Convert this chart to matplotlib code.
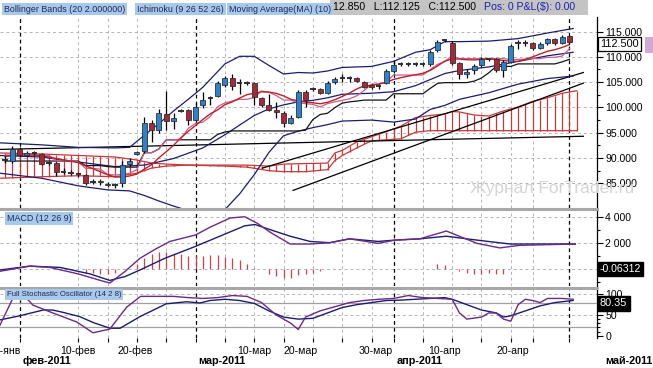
import matplotlib
matplotlib.use('Agg')
import matplotlib.pyplot as plt
from matplotlib.patches import Rectangle
import matplotlib.transforms as mtransforms
import numpy as np

plt.rcParams['font.family'] = ['Liberation Sans', 'DejaVu Sans']

# ---------------- data (bar index = trading bar incl. Sunday bars) ----------------
opens  = [89.7,89.4,91.8,90.5,90.9,90.8,88.9,89.1,87.3,87.1,86.8,86.6,85.3,85.5,84.9,84.6,85.0,88.8,90.7,91.4,
          97.0,95.5,98.7,97.3,99.2,99.4,97.5,100.5,101.8,102.3,104.4,105.9,104.7,104.9,104.8,101.8,100.5,99.5,98.8,97.0,
          98.2,103.1,103.5,103.6,102.9,105.0,105.75,105.7,105.8,105.0,104.4,104.1,104.9,107.1,108.45,108.45,108.45,108.55,108.5,111.3,
          113.3,112.8,108.7,106.7,107.3,108.4,109.45,109.5,107.4,109.0,112.6,112.7,112.7,111.7,112.7,113.5,112.8,114.1]
closes = [89.5,91.8,90.6,91.0,90.95,88.9,89.0,87.3,87.35,87.15,86.85,85.1,85.35,85.2,84.6,84.8,88.6,89.5,91.1,97.0,
          95.5,98.8,97.4,98.0,99.4,97.5,100.1,101.5,102.0,104.9,105.9,104.2,104.9,104.8,102.1,100.5,99.5,99.0,97.0,98.0,
          103.1,101.5,103.7,102.9,104.9,105.6,105.85,105.8,105.2,104.1,104.0,104.2,107.1,108.4,108.55,108.55,108.55,108.65,111.0,113.0,
          113.4,108.8,106.7,107.0,108.2,109.5,109.55,107.4,109.0,112.1,112.7,112.8,111.7,112.6,113.5,112.7,114.0,113.0]
highs  = [90.3,92.4,92.2,91.3,91.3,91.0,89.3,89.3,88.0,87.6,87.3,86.9,85.8,85.8,85.2,85.0,89.5,90.0,91.4,98.1,
          97.6,99.6,103.2,98.8,99.6,99.6,100.8,103.0,102.3,105.3,106.3,106.7,105.6,105.3,105.0,102.1,102.7,101.0,99.2,98.5,
          103.5,103.4,104.0,103.9,105.3,106.0,106.6,106.2,106.0,105.3,104.7,104.7,107.5,109.2,109.0,108.9,108.9,109.0,111.3,113.3,
          113.6,113.2,109.0,107.6,108.6,110.0,109.8,109.8,109.3,112.5,113.3,113.3,113.0,113.0,113.8,113.8,114.3,114.4]
lows   = [89.0,89.0,90.3,90.3,90.5,88.7,88.6,86.5,86.8,86.7,86.3,84.6,84.9,84.6,84.2,84.0,84.3,88.5,90.5,91.0,
          93.2,95.0,95.5,95.8,99.0,96.5,97.2,99.8,100.5,102.0,104.0,103.5,102.7,104.4,100.5,100.0,99.3,98.0,96.2,96.8,
          98.0,100.1,103.2,102.6,102.6,104.6,105.0,105.1,105.0,103.9,103.6,103.7,104.6,106.8,108.1,108.1,108.1,108.2,108.2,111.0,
          113.0,108.3,105.7,105.8,106.6,108.0,109.2,107.0,106.0,108.8,111.6,112.2,111.3,111.5,112.4,112.3,112.5,112.5]

# Bollinger bands (bar, value)
bb_up_x  = [-0.7,5,10,15,17,19,21,23,25,27,30,32,34,36,38,40,42,44,46,50,53,56,58,60,62,66,70,74,77.5]
bb_up_y  = [93.0,92.6,92.1,92.0,92.1,94.5,96.8,99.3,101.6,104.0,108.6,110.1,110.1,108.3,106.6,106.9,106.8,107.2,107.9,108.1,109.1,110.9,111.4,113.0,113.0,113.1,113.6,114.7,115.6]
bb_mid_x = [-0.7,5,10,15,19,23,27,30,32,34,36,38,40,42,44,46,50,53,56,58,60,62,66,70,74,77.5]
bb_mid_y = [90.5,90.2,89.2,88.3,88.6,89.9,92.0,94.6,96.5,98.4,99.7,100.5,101.1,101.4,101.9,102.6,102.8,103.1,104.3,105.5,106.7,107.3,108.0,109.1,110.2,110.9]
bb_lo_x  = [-0.7,5,10,14,17,19,21,23,25,27,30,32,34,36,38,40,42,44,46,50,53,56,58,60,62,66,70,74,77.5]
bb_lo_y  = [87.0,86.0,84.5,83.7,83.5,82.6,81.5,80.5,79.6,79.3,79.8,82.9,86.7,91.1,94.4,95.3,96.0,96.6,97.3,97.5,97.1,97.7,99.6,100.4,101.6,102.9,104.6,105.7,106.2]

# MA(10) (red), Tenkan-sen (pink), Kijun-sen (black) - one value per bar 0..77
ma10 = [90.3,90.5,90.6,90.6,90.6,90.4,90.2,89.9,89.6,89.36,89.09,88.42,87.9,87.3,86.68,86.27,86.23,86.45,86.83,87.81,
        88.68,90.05,91.25,92.53,94.01,95.28,96.43,97.63,98.72,99.51,100.55,101.09,101.84,102.52,102.79,103.09,103.03,102.78,102.28,101.59,
        101.31,101.04,100.92,100.73,101.01,101.52,102.16,102.84,103.66,104.27,104.36,104.63,104.97,105.52,105.88,106.18,106.45,106.73,107.31,108.2,
        109.14,109.6,109.56,109.42,109.39,109.48,109.58,109.46,109.26,109.17,109.1,109.5,110.0,110.56,111.09,111.41,111.85,112.41]
tenkan = [90.6,90.6,90.6,90.6,90.6,90.55,90.5,89.45,89.45,89.45,89.25,87.95,87.95,87.8,86.75,86.65,86.75,87.0,87.7,91.05,
          91.05,91.8,93.6,93.6,93.75,95.85,96.85,97.1,98.2,100.15,100.9,101.25,101.6,101.6,101.95,103.25,103.0,102.35,101.45,101.45,
          100.9,100.75,100.6,100.1,100.75,101.1,101.4,101.7,102.3,103.35,104.6,104.6,105.05,106.4,106.4,106.4,106.4,106.4,107.45,108.5,
          109.1,110.2,109.65,109.65,109.65,109.65,109.65,109.65,109.65,109.45,109.5,109.55,109.65,109.65,109.9,109.9,110.15,111.6]
kijun = [89.4,89.4,89.4,89.4,89.4,89.4,89.4,89.4,89.4,89.4,89.4,88.5,88.5,88.5,88.3,88.2,88.2,88.2,88.2,91.05,
         91.05,91.8,93.6,93.6,93.6,93.6,93.6,93.6,93.6,94.65,95.15,95.35,95.35,95.35,95.35,95.35,95.35,95.35,95.35,95.35,
         95.35,95.5,97.6,98.6,98.85,99.95,100.85,101.1,101.25,101.45,101.45,101.45,101.45,102.7,102.7,102.7,102.7,102.7,103.75,104.75,
         104.9,104.9,104.9,104.9,105.2,105.8,106.85,108.1,108.1,108.1,108.6,108.6,108.6,108.6,108.6,108.6,109.0,109.5]

cloud_x = [-0.7,5,10,15,18,20,22,25,30,33,36,38,41,44,45,46,48,50,52,54,56,58,60,61,62,64,66,68,70,72,74,76,78]
cloud_a = [91.0,90.8,90.5,90.2,89.6,89.0,88.8,88.6,88.6,88.6,88.4,88.8,88.9,89.0,91.0,91.5,93.2,94.2,95.2,96.3,98.0,98.4,98.7,99.2,99.1,98.5,98.3,99.3,100.1,101.2,101.9,102.8,103.3]
cloud_b = [86.0,86.3,86.5,86.3,87.0,88.0,88.4,88.6,88.4,88.2,87.5,87.3,87.3,87.7,89.5,90.5,92.0,93.4,93.6,93.8,95.1,95.4,95.4,95.4,95.4,95.4,95.4,95.4,95.4,95.4,95.4,95.4,95.4]

# drawn lines (two ends each)
line_x = [[-0.7, 78.9], [35.1, 78.9], [39.3, 78.9]]
line_y = [[91.7, 94.3], [88.0, 106.9], [83.6, 104.8]]

# MACD (bar, value)
macd_x = [-0.7,3.4,6.1,10,13,14.3,16.4,18.4,20.5,22.5,24.6,26,28,30.7,32.7,34.4,36.2,38.9,41.6,44.3,47,50.9,53.2,56.6,60.2,64.4,67.5,70.2,77.8]
macd_v = [-0.2,0.2,0.1,-0.4,-0.9,-1.1,-0.2,0.8,1.5,2.1,2.4,2.6,3.2,3.9,4.0,3.5,2.8,1.9,1.9,2.0,2.3,1.95,2.2,2.3,2.9,1.95,1.6,1.8,1.9]
sig_x  = [-0.7,3.4,7.5,11.6,14.3,16.4,18.4,21.8,25.9,29.3,32.7,34.1,36.2,38.9,41.6,44.3,47,50.9,53.2,56.6,60.2,64.4,68.9,77.8]
sig_v  = [-0.1,0.2,0.1,-0.4,-0.9,-0.6,-0.1,0.8,1.7,2.5,3.3,3.4,3.0,2.5,2.1,2.0,2.3,2.1,2.2,2.3,2.5,2.2,1.9,1.9]
hist_x = [11,12,13,14,15,18,19,20,21,22,23,24,25,26,27,28,29,30,31,32,33,34,36,37,38,39,40,41,42,43,59,60,62,63,64,65,66,67,68]
hist_v = [-0.3,-0.35,-0.4,-0.4,-0.3,0.4,0.8,1.1,1.3,1.25,1.1,1.1,1.0,1.0,1.0,1.05,1.05,0.9,0.8,0.65,0.4,0.05,-0.4,-0.55,-0.75,-0.7,-0.5,-0.4,-0.3,-0.15,0.35,0.3,-0.2,-0.3,-0.4,-0.4,-0.35,-0.4,-0.4]

# Full stochastic
stk_x = [-0.7,1.2,2.5,3.8,6.5,9.8,12,14.3,16.6,18.5,21,23,25,27,29,31,33,35,37,39,40,41,43,45,47,49,51,53,55,57,59,61,62,63,65,66,67,68,69,70,71,72,73,74,76,77.5]
stk_v = [25,95,99,74,55,33,7,16,69,95,95,95,92,90,92,97,95,80,50,30,15,45,60,70,80,85,88,90,97,92,90,88,55,40,45,55,55,40,35,75,88,85,80,90,90,88]
std_x = [-0.7,2,5.2,6.5,8,10.2,12,14.3,15.7,18.4,22,24.8,26.6,28,30,32,34,36,38,40,42,44,46,48,50,52,54,56,58,60,61,63,65,67,68,69,71,73,75,77.5]
std_v = [38,48,62,62,56,46,32,18,18,46,77,82,79,85,88,85,78,60,45,40,42,55,68,75,80,85,86,88,90,92,88,75,62,55,45,48,60,72,80,85]

# axis labels
day_pos    = [0, 10, 17.8, 34, 40.3, 50.6, 60, 69.3]
day_labels = ['30-янв', '10-фев', '20-фев', '10-мар', '20-мар', '30-мар', '10-апр', '20-апр']
month_pos  = [2, 26, 53, 77]
month_lbls = ['фев-2011', 'мар-2011', 'апр-2011', 'май-2011']
grid_pos   = [10, 14, 18, 22, 30, 34, 38, 42, 46, 50, 57, 61, 65, 69, 72]

# ---------------- figure ----------------
W, H = 653, 368
fig = plt.figure(figsize=(W / 100, H / 100), dpi=100)
fig.patch.set_facecolor('white')

def panel(top, bottom, right=597):
    return fig.add_axes([0, 1 - bottom / H, right / W, (bottom - top) / H])

ax = panel(17, 208)
axm = panel(211, 286)
axs = panel(289, 338)

XL = (-0.682, 80.76)
NAVY = '#1c1c6e'
GRID = '#b4b4b4'
bars = np.arange(len(closes))

for a in (ax, axm, axs):
    a.set_xlim(*XL)
    for s in ('left', 'top', 'bottom'):
        a.spines[s].set_visible(False)
    a.spines['right'].set_color('black')
    a.spines['right'].set_linewidth(0.9)
    a.yaxis.tick_right()
    a.tick_params(axis='y', which='major', length=4, width=0.8, pad=2, labelsize=7.6, colors='black')
    a.tick_params(axis='y', which='minor', length=2, width=0.8)
    a.set_xticks([])
    for g in grid_pos:
        a.axvline(g, color=GRID, lw=0.7, ls=(0, (3, 3)), zorder=0)
    for m in month_pos:
        a.axvline(m, color='black', lw=0.9, ls=(0, (3, 2.5)), zorder=1)

# ---- main panel
ax.set_ylim(80.12, 117.87)
ax.set_yticks([85, 90, 95, 100, 105, 110, 115])
ax.set_yticklabels(['85.000', '90.000', '95.000', '100.000', '105.000', '110.000', '115.000'])
ax.set_yticks([87.5, 92.5, 97.5, 102.5, 107.5, 112.5], minor=True)
for v in [85, 90, 95, 100, 105, 110, 115]:
    ax.axhline(v, color=GRID, lw=0.7, ls=(0, (3, 3)), zorder=0)

# cloud
CL = '#c83838'
ax.plot(cloud_x, cloud_a, color=CL, lw=0.9, zorder=2)
ax.plot(cloud_x, cloud_b, color=CL, lw=0.9, zorder=2)
hx = np.arange(0, 79)
ca = np.interp(hx, cloud_x, cloud_a)
cb = np.interp(hx, cloud_x, cloud_b)
ax.vlines(hx, np.minimum(ca, cb), np.maximum(ca, cb), color=CL, lw=0.9, zorder=2)

for xs, ys in zip(line_x, line_y):
    ax.plot(xs, ys, color='black', lw=0.9, zorder=3)

ax.plot(bb_up_x, bb_up_y, color=NAVY, lw=0.9, zorder=3)
ax.plot(bb_mid_x, bb_mid_y, color=NAVY, lw=0.9, zorder=3)
ax.plot(bb_lo_x, bb_lo_y, color=NAVY, lw=0.9, zorder=3)
ax.plot(bars, kijun, color='#141414', lw=0.9, zorder=3)
ax.plot(bars, tenkan, color='#c8608c', lw=0.9, zorder=3)
ax.plot(bars, ma10, color='#c0202a', lw=1.0, zorder=3)

for i, (o, h, l, c) in enumerate(zip(opens, highs, lows, closes)):
    ax.vlines(i, l, h, color='black', lw=0.9, zorder=4)
    col = '#2b83d0' if c >= o else '#a8283a'
    bot, ht = min(o, c), abs(c - o)
    if ht < 0.25:
        ax.hlines((o + c) / 2, i - 0.36, i + 0.36, color='#303030', lw=1.4, zorder=5)
    else:
        ax.add_patch(Rectangle((i - 0.34, bot), 0.68, ht, facecolor=col, edgecolor='#303030', lw=0.6, zorder=5))

# last price box
ax.text(1.005, 112.5, '112.500', transform=mtransforms.blended_transform_factory(ax.transAxes, ax.transData),
        fontsize=7.8, va='center', ha='left', zorder=10,
        bbox=dict(boxstyle='square,pad=0.18', fc='white', ec='black', lw=0.9))
fig.patches.append(Rectangle((645 / W, 1 - 53 / H), 8 / W, 16 / H, transform=fig.transFigure,
                             facecolor='#d4a8d6', edgecolor='none'))

# watermark
fig.text(470 / W, 1 - 189 / H, 'Журнал ForTrader.ru', fontsize=12.5, color='#d4d4d4', va='center', ha='left', zorder=0.5)

# ---- MACD panel
axm.set_ylim(-1.33, 4.44)
axm.set_yticks([2, 4])
axm.set_yticklabels(['2 000', '4 000'])
axm.set_yticks([-1, 0, 1, 3], minor=True)
for v in [0, 2, 4]:
    axm.axhline(v, color=GRID, lw=0.7, ls=(0, (3, 3)), zorder=0)
axm.vlines(hist_x, 0, hist_v, color='#d0404e', lw=0.9, zorder=2)
axm.plot(sig_x, sig_v, color=NAVY, lw=1.0, zorder=3)
axm.plot(macd_x, macd_v, color='#6a2a86', lw=1.0, zorder=3)
axm.text(1.005, 0.0, '-0.06312', transform=mtransforms.blended_transform_factory(axm.transAxes, axm.transData),
         fontsize=7.6, va='center', ha='left', color='white', zorder=10,
         bbox=dict(boxstyle='square,pad=0.2', fc='black', ec='black'))

# ---- Stochastic panel
axs.set_ylim(-5.6, 112.8)
axs.set_yticks([0, 50, 100])
axs.set_yticklabels(['0', '50', '100'])
axs.set_yticks([10, 20, 30, 40, 60, 70, 80, 90], minor=True)
axs.axhline(50, color=GRID, lw=0.7, ls=(0, (3, 3)), zorder=0)
axs.axhline(100, color=GRID, lw=0.7, ls=(0, (3, 3)), zorder=0)
axs.axhline(80, color='#a0a0a0', lw=0.9, zorder=1)
axs.axhline(20, color='#a0a0a0', lw=0.9, zorder=1)
axs.plot(std_x, std_v, color=NAVY, lw=1.0, zorder=3)
axs.plot(stk_x, stk_v, color='#6a2a86', lw=1.0, zorder=3)
axs.text(1.005, 78, '80.35', transform=mtransforms.blended_transform_factory(axs.transAxes, axs.transData),
         fontsize=7.8, va='center', ha='left', color='white', zorder=10,
         bbox=dict(boxstyle='square,pad=0.2', fc='black', ec='black'))

# x tick marks and labels under stochastic panel
axs.set_xticks(grid_pos + month_pos)
axs.tick_params(axis='x', length=3, width=0.8, labelbottom=False)
tb = mtransforms.blended_transform_factory(axs.transData, fig.transFigure)
for p, s in zip(day_pos, day_labels):
    axs.text(p, 1 - 351 / H, s, transform=tb, fontsize=7.6, ha='center', va='center', clip_on=False)
for p, s in zip(month_pos[:3], month_lbls[:3]):
    axs.text(p + 0.4, 1 - 361 / H, s, transform=tb, fontsize=7.8, fontweight='bold', ha='left', va='center')
fig.text(652 / W, 1 - 361 / H, month_lbls[3], fontsize=7.8, fontweight='bold', ha='right', va='center')

# separators
for yy in (209.5, 287.5):
    fig.add_artist(plt.Line2D([0, 597 / W], [1 - yy / H] * 2, color='#a8a8a8', lw=2.2, transform=fig.transFigure))

# ---- header
fig.patches.append(Rectangle((330 / W, 1 - 15 / H), 258 / W, 15 / H, transform=fig.transFigure,
                             facecolor='#c4c4c4', edgecolor='none'))
lab_bg = '#a9c9ea'
for x0, s in [(4, 'Bollinger Bands (20 2.000000)'), (137, 'Ichimoku (9 26 52 26)'), (229, 'Moving Average(MA) (10)')]:
    fig.text(x0 / W, 1 - 9 / H, s, fontsize=6.4, color='#1a2a5a', va='center', ha='left',
             bbox=dict(boxstyle='square,pad=0.2', fc=lab_bg, ec='none'))
fig.text(333 / W, 1 - 7.5 / H, '12.850   L:112.125   C:112.500', fontsize=7.6, color='black', va='center', ha='left')
fig.text(484 / W, 1 - 7.5 / H, 'Pos: 0 P&L($): 0.00', fontsize=7.6, color='#1c22b0', va='center', ha='left')
fig.text(7 / W, 1 - 218.5 / H, 'MACD (12 26 9)', fontsize=6.4, color='#1a2a5a', va='center', ha='left',
         bbox=dict(boxstyle='square,pad=0.2', fc=lab_bg, ec='none'))
fig.text(7 / W, 1 - 294.5 / H, 'Full Stochastic Oscillator (14 2 8)', fontsize=5.6, color='#1a2a5a', va='center', ha='left',
         bbox=dict(boxstyle='square,pad=0.2', fc=lab_bg, ec='none'))

fig.savefig('out.png', dpi=100, facecolor='white')
